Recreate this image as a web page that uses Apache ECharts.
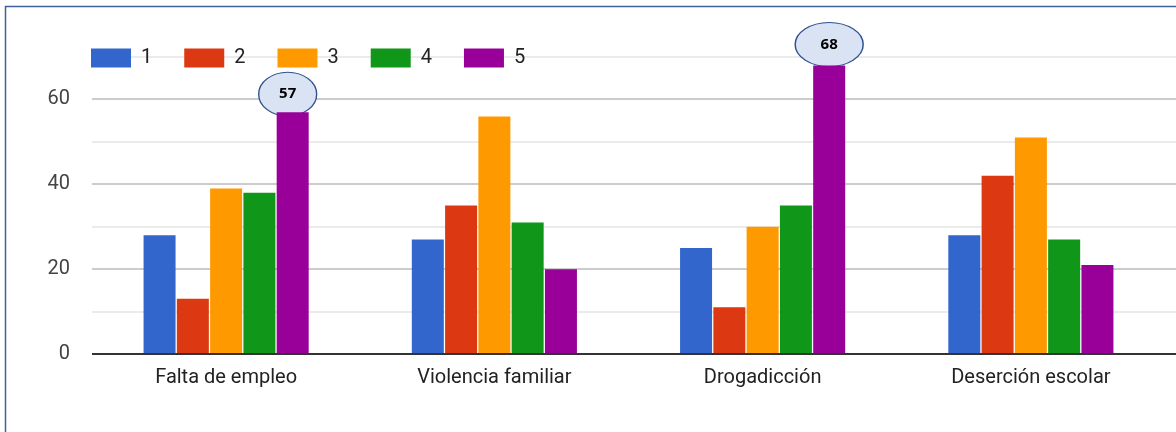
<!DOCTYPE html>
<html>
<head>
<meta charset="utf-8">
<script src="https://cdn.jsdelivr.net/npm/echarts@6/dist/echarts.min.js"></script>
<style>
  html, body { margin: 0; padding: 0; background: #fff; }
  #chart { width: 1176px; height: 432px; }
</style>
</head>
<body>
<div id="chart"></div>
<script>
const categories = ['Falta de empleo', 'Violencia familiar', 'Drogadicción', 'Deserción escolar'];
const seriesNames = ['1', '2', '3', '4', '5'];
const values1 = [28, 27, 25, 28];
const values2 = [13, 35, 11, 42];
const values3 = [39, 56, 30, 51];
const values4 = [38, 31, 35, 27];
const values5 = [57, 20, 68, 21];
const yTickLabels = [0, 20, 40, 60];
const annotatedIndex = [0, 2]; // points of series "5" that carry a callout

const colors = ['#3366CC', '#DC3912', '#FF9900', '#109618', '#990099'];
const allValues = [values1, values2, values3, values4, values5];
const calloutOffsets = [[-5, -18], [0, -21]];
const calloutSizes = [[58, 44], [68, 44]];

const chart = echarts.init(document.getElementById('chart'), null, { renderer: 'canvas' });

const series = allValues.map((vals, i) => {
  const s = {
    name: seriesNames[i],
    type: 'bar',
    z: 10,
    data: vals,
    barWidth: 32,
    barGap: '4%',
    itemStyle: { color: colors[i] },
    emphasis: { disabled: true }
  };
  if (i === 4) {
    s.markPoint = {
      symbol: 'path://M50,0 A50,50 0 1,1 50,100 A50,50 0 1,1 50,0 Z',
      itemStyle: { color: '#DAE3F3', borderColor: '#2F528F', borderWidth: 1.2 },
      label: {
        show: true, position: 'inside', color: '#000', fontWeight: 'bold',
        fontSize: 15, fontFamily: 'Open Sans'
      },
      data: annotatedIndex.map((idx, k) => ({
        coord: [categories[idx], vals[idx]],
        value: vals[idx],
        symbolSize: calloutSizes[k],
        symbolOffset: calloutOffsets[k]
      }))
    };
  }
  return s;
});

chart.setOption({
  animation: false,
  backgroundColor: '#fff',
  textStyle: { fontFamily: 'Roboto' },
  legend: {
    left: 91,
    top: 48,
    padding: 0,
    itemWidth: 40,
    itemHeight: 19,
    itemGap: 32,
    icon: 'rect',
    textStyle: { fontSize: 20, color: '#222', fontFamily: 'Roboto', padding: [0, 0, 0, 5] },
    data: seriesNames
  },
  grid: { left: 92, right: 11, top: 57, bottom: 78, containLabel: false },
  xAxis: {
    type: 'category',
    data: categories,
    axisLine: { show: false },
    axisTick: { show: false },
    axisLabel: { fontSize: 20, color: '#222', margin: 14, fontFamily: 'Roboto' }
  },
  yAxis: {
    type: 'value',
    min: 0,
    max: 70,
    interval: 10,
    axisLine: { show: false },
    axisTick: { show: false },
    axisLabel: {
      fontSize: 20, color: '#444', margin: 22, fontFamily: 'Roboto',
      formatter: v => (yTickLabels.indexOf(v) >= 0 ? String(v) : '')
    },
    splitLine: { show: false }
  },
  series: series
});

// Horizontal grid lines drawn across to the right edge (behind bars), axis line, and the frame
const xPx = c => chart.convertToPixel({ xAxisIndex: 0 }, c);
const gridLeftPx = xPx(categories[0]) - (xPx(categories[1]) - xPx(categories[0])) / 2;
const extra = [];
for (let v = 10; v <= 70; v += 10) {
  const y = Math.round(chart.convertToPixel({ yAxisIndex: 0 }, v));
  const major = yTickLabels.indexOf(v) >= 0;
  extra.push({
    type: 'rect',
    shape: { x: Math.round(gridLeftPx), y: y - 1, width: 1176, height: 2 },
    style: { fill: major ? '#CCCCCC' : '#EBEBEB' },
    silent: true,
    z: -1
  });
}
const y0 = Math.round(chart.convertToPixel({ yAxisIndex: 0 }, 0));
extra.push({
  type: 'rect',
  shape: { x: Math.round(gridLeftPx), y: y0 - 1, width: 1176, height: 2 },
  style: { fill: '#333' },
  silent: true,
  z: 50
});
extra.push({
  type: 'polyline',
  shape: { points: [[5.5, 432], [5.5, 6.5], [1176, 6.5]] },
  style: { stroke: '#41609E', lineWidth: 1.5, fill: null },
  silent: true,
  z: 100
});
chart.setOption({ graphic: extra });
</script>
</body>
</html>
